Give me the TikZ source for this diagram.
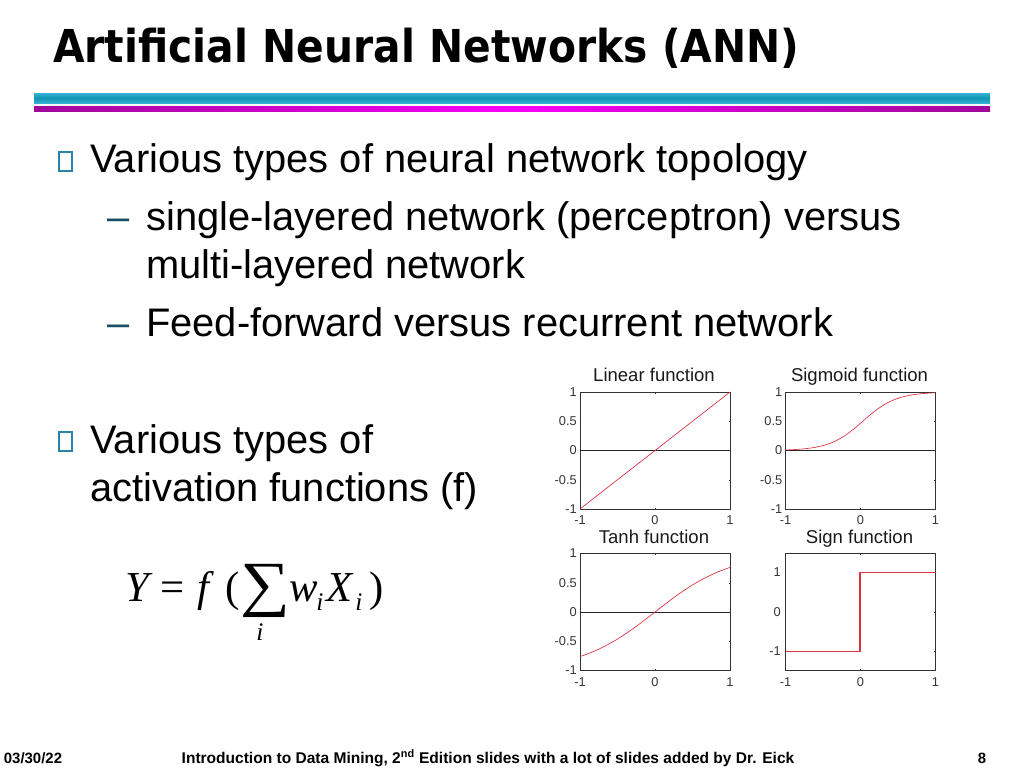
\documentclass[tikz,border=0pt]{standalone}
\usepackage{fontspec}
\setmainfont{Liberation Sans}
\newfontfamily\titlefont[FakeStretch=0.9]{DejaVu Sans}
\newfontfamily\formulafont{Liberation Serif}
\newfontfamily\sumfont[FakeStretch=1.14]{Liberation Serif}
\definecolor{bulletcolor}{HTML}{2A84A8}
\definecolor{barcyan}{HTML}{12A5CC}
\definecolor{barmagenta}{HTML}{F800F8}
\definecolor{barpurple}{HTML}{A0089A}
\definecolor{curvecolor}{HTML}{DC3040}

\begin{document}
\begin{tikzpicture}
      [x = 0.75pt, y = -0.75pt,
      body/.style= {
         anchor = base west,
         inner sep = 0pt,
         font = \fontsize{29.9}{36}\selectfont
      },
      bullet/.style= {
         draw = bulletcolor,
         line width = 1pt,
         fill = white
      },
      formula/.style= {
         anchor = base west,
         inner sep = 0pt,
         font = \formulafont\itshape\fontsize{32}{36}\selectfont
      },
      upright/.style= {
         anchor = base west,
         inner sep = 0pt,
         font = \formulafont\fontsize{32}{36}\selectfont
      },
      subscript/.style= {
         anchor = base west,
         inner sep = 0pt,
         font = \formulafont\itshape\fontsize{19}{22}\selectfont
      },
      plottitle/.style= {
         anchor = base,
         inner sep = 0pt,
         text = black!90,
         font = \fontsize{13.9}{16}\selectfont
      },
      tick/.style= {
         inner sep = 0pt,
         text = black!80,
         font = \fontsize{9.6}{11}\selectfont
      },
      footer/.style= {
         anchor = base,
         inner sep = 0pt,
         font = \bfseries\fontsize{11.2}{13}\selectfont
      },
      curve/.style= {
         draw = curvecolor,
         line width = 0.5pt
      }]

      \useasboundingbox (0, 0) rectangle (1024, 768);

      % title and bars
      \node (title) [anchor = base west, inner sep = 0pt,
         font = \titlefont\bfseries\fontsize{34}{40}\selectfont] at (53, 62)
         {Artificial Neural Networks (ANN)};
      \shade [top color = barcyan!85!white, bottom color = barcyan!85!white, middle color = barcyan!90!black]
         (34, 93) rectangle (990, 103);
      \shade [left color = barpurple, right color = barmagenta]
         (34, 106) rectangle (512, 111);
      \shade [left color = barmagenta, right color = barpurple]
         (512, 106) rectangle (990, 111);

      % text
      \draw[bullet] (59, 152) rectangle (72, 171);
      \node (topology) [body] at (90, 172) {Various types of neural network topology};
      \node (dashone) [body, text = bulletcolor!60!black] at (107, 230) {--};
      \node (single) [body] at (146, 230) {single-layered network (perceptron) versus};
      \node (multi) [body] at (146, 278) {multi-layered network};
      \node (dashtwo) [body, text = bulletcolor!60!black] at (107, 336) {--};
      \node (feed) [body] at (146, 336) {Feed-forward versus recurrent network};
      \draw[bullet] (59, 432) rectangle (72, 451);
      \node (types) [body] at (90, 453) {Various types of};
      \node (activation) [body] at (90, 501) {activation functions (f)};

      % formula
      \node (fy) [formula] at (125, 601) {Y};
      \node (feq) [upright] at (160, 601) {=};
      \node (ff) [formula] at (197, 601) {f};
      \node (fopen) [upright] at (225, 601) {(};
      \node (fsum) [anchor = base west, inner sep = 0pt, font = \sumfont\fontsize{46}{50}\selectfont]
         at (240, 604) {∑};
      \node (fsumi) [subscript] at (256, 640) {i};
      \node (fw) [formula] at (289, 601) {w};
      \node (fwi) [subscript] at (316, 610) {i};
      \node (fx) [formula] at (326, 601) {X};
      \node (fxi) [subscript] at (355, 610) {i};
      \node (fclose) [upright] at (369, 601) {)};

      % plots
      \foreach \cx/\cy/\nm/\ttl in {655/450.5/linear/Linear function, 860.5/450.5/sigmoid/Sigmoid function,
         655/612/tanh/Tanh function, 860.5/612/sign/Sign function} {
         \draw[black!80, line width = 0.6pt] (\cx-75, \cy-58.5) rectangle (\cx+75, \cy+58.5);
         \node (\nm title) [plottitle] at (\cx-1, \cy-69) {\ttl};
         \foreach \v/\lbl in {-1/-1, 0/0, 1/1}
            \node (\nm x\lbl) [tick] at (\cx+75*\v, \cy+70) {\lbl};
         \foreach \v in {-1, 0, 1} {
            \draw[black!80, line width = 0.3pt] (\cx+75*\v, \cy-58.5) -- (\cx+75*\v, \cy-57);
            \draw[black!80, line width = 0.3pt] (\cx+75*\v, \cy+58.5) -- (\cx+75*\v, \cy+57);
         }
      }
      \foreach \cx/\cy/\nm in {655/450.5/linear, 860.5/450.5/sigmoid, 655/612/tanh} {
         \draw[black!85, line width = 0.6pt] (\cx-75, \cy) -- (\cx+75, \cy);
         \foreach \v/\lbl in {1/1, 0.5/0.5, 0/0, -0.5/-0.5, -1/-1} {
            \node (\nm y\lbl) [tick, anchor = east] at (\cx-78, \cy-58.5*\v) {\lbl};
            \draw[black!80, line width = 0.3pt] (\cx+73.5, \cy-58.5*\v) -- (\cx+75, \cy-58.5*\v);
         }
      }
      \foreach \v/\lbl in {1/1, 0/0, -1/-1} {
         \node (signy\lbl) [tick, anchor = east] at (781, 612-39.5*\v) {\lbl};
         \draw[black!80, line width = 0.3pt] (934, 612-39.5*\v) -- (935.5, 612-39.5*\v);
      }

      \draw[curve] plot[domain = -1:1, samples = 3] ({655+75*\x}, {450.5-58.5*\x});
      \draw[curve] plot[smooth, domain = -1:1, samples = 41]
         ({860.5+75*\x}, {450.5-58.5*(1/(1+exp(-4.5*(\x-0.03))))});
      \draw[curve] plot[smooth, domain = -1:1, samples = 41]
         ({655+75*\x}, {612-58.5*tanh(\x)});
      \draw[curve, line width = 0.8pt] (785.5, 651.5) -- (860, 651.5) -- (860, 572.5) -- (935.5, 572.5);

      % footer
      \node (date) [footer] at (33, 763) {03/30/22};
      \node (course) [footer, font = \bfseries\fontsize{11.65}{13}\selectfont] at (488, 763)
         {Introduction to Data Mining, 2\textsuperscript{nd} Edition slides with a lot of slides added by Dr. Eick};
      \node (page) [footer] at (982, 763) {8};

   \end{tikzpicture}
\end{document}
